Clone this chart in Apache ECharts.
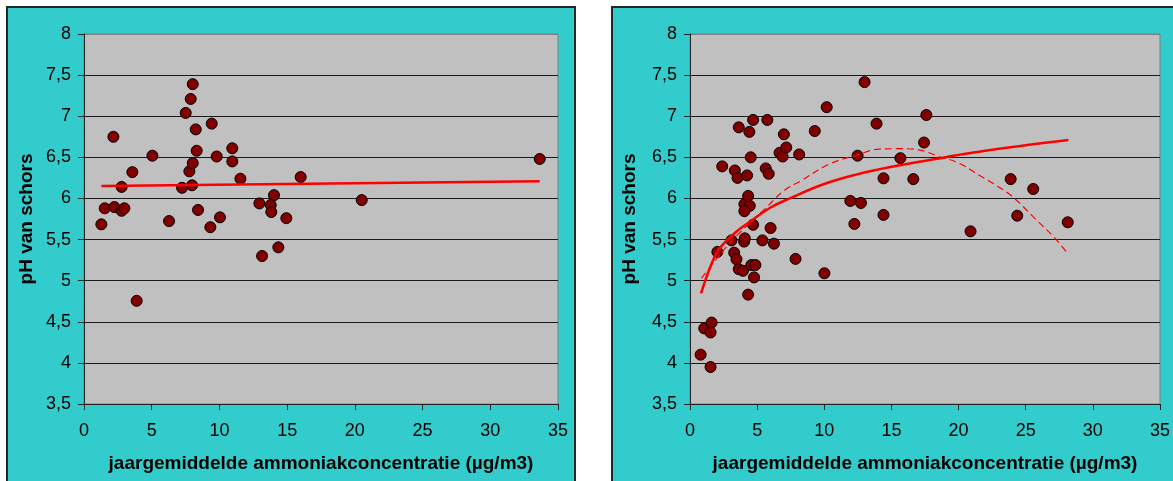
<!DOCTYPE html>
<html>
<head>
<meta charset="utf-8">
<title>pH van schors en ammoniakconcentratie</title>
<script src="https://cdn.jsdelivr.net/npm/echarts@6/dist/echarts.min.js"></script>
<style>
  html, body { margin: 0; padding: 0; background: #ffffff; }
  #chart { width: 1173px; height: 481px; }
</style>
</head>
<body>
<div id="chart"></div>
<script>
// Axis ranges and tick labels (shared by both panels)
const yTicks = [3.5, 4, 4.5, 5, 5.5, 6, 6.5, 7, 7.5, 8];
const xTicks = [0, 5, 10, 15, 20, 25, 30, 35];
const yTitle = 'pH van schors';
const xTitle = 'jaargemiddelde ammoniakconcentratie (µg/m3)';

// Left panel: measured sites
const leftX = [1.28, 1.53, 2.17, 2.24, 2.78, 2.98, 2.78, 3.57, 3.89, 5.05, 6.28, 7.24, 7.51, 7.88, 8.03, 7.78, 8.03, 7.98, 8.25, 8.32, 8.42, 9.33, 9.43, 9.80, 10.04, 10.95, 10.95, 11.55, 12.95, 13.15, 13.79, 13.83, 14.03, 14.35, 14.94, 16.0, 20.51, 33.65];
const leftY = [5.685, 5.88, 6.75, 5.895, 5.85, 5.88, 6.14, 6.32, 4.755, 6.52, 5.725, 6.13, 7.04, 7.21, 7.39, 6.33, 6.43, 6.16, 6.84, 6.58, 5.86, 5.65, 6.91, 6.51, 5.77, 6.61, 6.45, 6.24, 5.94, 5.30, 5.92, 5.835, 6.04, 5.405, 5.76, 6.26, 5.98, 6.48];
// Left panel: linear trend line
const leftTrendX = [1.28, 33.65];
const leftTrendY = [6.15, 6.21];

// Right panel: measured sites
const rightX = [0.79, 1.06, 1.61, 1.53, 1.53, 2.04, 2.40, 3.09, 3.29, 3.46, 3.63, 3.95, 3.34, 3.54, 3.63, 4.03, 4.08, 4.05, 4.45, 4.05, 4.33, 4.25, 4.42, 4.52, 4.70, 4.57, 4.87, 4.77, 4.33, 4.70, 5.39, 5.64, 5.86, 5.76, 6.00, 6.25, 6.67, 6.90, 7.17, 6.99, 7.86, 8.13, 9.29, 10.01, 10.18, 11.94, 12.24, 12.48, 12.73, 13.00, 13.89, 14.41, 14.41, 15.67, 16.63, 17.43, 17.60, 20.89, 23.88, 24.37, 25.56, 28.13];
const rightY = [4.10, 4.42, 4.49, 4.37, 3.95, 5.35, 6.39, 5.49, 5.34, 5.26, 5.14, 5.12, 6.34, 6.25, 6.865, 5.475, 5.515, 5.93, 5.91, 5.845, 6.03, 6.28, 6.81, 6.50, 6.955, 5.19, 5.19, 5.04, 4.83, 5.68, 5.49, 6.365, 6.30, 6.955, 5.64, 5.45, 6.555, 6.51, 6.62, 6.78, 5.265, 6.535, 6.82, 5.09, 7.11, 5.97, 5.69, 6.52, 5.945, 7.415, 6.91, 6.245, 5.80, 6.49, 6.235, 6.68, 7.015, 5.60, 6.235, 5.79, 6.115, 5.71];
// Right panel: logarithmic trend (solid)
const logTrendX = [0.82, 1.5, 2.1, 3.34, 4.57, 6.0, 7.42, 9.89, 12.36, 14.83, 18.29, 20.76, 24.47, 28.18];
const logTrendY = [4.846, 5.16, 5.37, 5.58, 5.73, 5.89, 6.0, 6.17, 6.29, 6.38, 6.48, 6.55, 6.635, 6.71];
// Right panel: second-order polynomial trend (dashed)
const polyTrendX = [0.86, 2.0, 3.5, 5.56, 7.04, 8.28, 10.26, 12.48, 14.09, 15.7, 17.05, 18.54, 20.02, 21.5, 22.99, 24.1, 25.6, 27.19, 28.05];
const polyTrendY = [5.03, 5.27, 5.55, 5.87, 6.10, 6.215, 6.41, 6.53, 6.60, 6.605, 6.59, 6.51, 6.43, 6.285, 6.14, 6.01, 5.77, 5.515, 5.345];

const pairs = (xs, ys) => xs.map((x, i) => [x, ys[i]]);

const FONT = '"Liberation Sans", Arial, sans-serif';
const BLACK = '#000000';

function makeXAxis(gridIndex) {
  return {
    type: 'value', gridIndex,
    min: xTicks[0], max: xTicks[xTicks.length - 1], interval: 5,
    name: xTitle, nameLocation: 'middle', nameGap: 50,
    nameTextStyle: { fontFamily: FONT, fontSize: 19, fontWeight: 'bold', color: BLACK },
    axisLine: { show: true, lineStyle: { color: '#222222', width: 1 } },
    axisTick: { show: true, inside: false, length: 6, lineStyle: { color: '#222222' } },
    axisLabel: { fontFamily: FONT, fontSize: 18, color: BLACK, margin: 18 },
    splitLine: { show: false }
  };
}

function makeYAxis(gridIndex, gap) {
  return {
    type: 'value', gridIndex,
    min: yTicks[0], max: yTicks[yTicks.length - 1], interval: 0.5,
    name: yTitle, nameLocation: 'middle', nameRotate: 90, nameGap: gap,
    nameTextStyle: { fontFamily: FONT, fontSize: 19, fontWeight: 'bold', color: BLACK },
    axisLine: { show: true, lineStyle: { color: '#222222', width: 1 } },
    axisTick: { show: true, inside: false, length: 6, lineStyle: { color: '#222222' } },
    axisLabel: {
      fontFamily: FONT, fontSize: 18, color: BLACK, margin: 13,
      formatter: v => String(v).replace('.', ',')
    },
    splitLine: {
      show: true,
      lineStyle: { color: yTicks.map((t, i) => i === yTicks.length - 1 ? '#808080' : '#1a1a1a'), width: 1 }
    }
  };
}

const dotStyle = { color: '#800000', borderColor: '#000000', borderWidth: 1, opacity: 1 };

const chart = echarts.init(document.getElementById('chart'), null, { renderer: 'canvas' });

chart.setOption({
  animation: false,
  backgroundColor: '#ffffff',
  graphic: {
    elements: [
      { type: 'rect', z: -10, shape: { x: 7, y: 7, width: 568, height: 490 },
        style: { fill: '#33CCCC', stroke: '#262626', lineWidth: 2 } },
      { type: 'rect', z: -10, shape: { x: 612, y: 7, width: 575, height: 490 },
        style: { fill: '#33CCCC', stroke: '#262626', lineWidth: 2 } }
    ]
  },
  grid: [
    { left: 84, top: 34, width: 474, height: 370, show: true,
      backgroundColor: '#C0C0C0', borderColor: '#808080', borderWidth: 1 },
    { left: 690, top: 34, width: 472, height: 370, show: true,
      backgroundColor: '#C0C0C0', borderColor: '#808080', borderWidth: 1 }
  ],
  xAxis: [makeXAxis(0), makeXAxis(1)],
  yAxis: [makeYAxis(0, 48), makeYAxis(1, 51)],
  series: [
    { type: 'scatter', xAxisIndex: 0, yAxisIndex: 0, symbol: 'circle', symbolSize: 11,
      itemStyle: dotStyle, data: pairs(leftX, leftY), z: 2 },
    { type: 'line', xAxisIndex: 0, yAxisIndex: 0, showSymbol: false, symbol: 'none',
      lineStyle: { color: '#FF0000', width: 2.5 }, data: pairs(leftTrendX, leftTrendY), z: 3 },
    { type: 'scatter', xAxisIndex: 1, yAxisIndex: 1, symbol: 'circle', symbolSize: 11,
      itemStyle: dotStyle, data: pairs(rightX, rightY), z: 2 },
    { type: 'line', xAxisIndex: 1, yAxisIndex: 1, showSymbol: false, symbol: 'none', smooth: 0.4,
      lineStyle: { color: '#FF0000', width: 2.5 }, data: pairs(logTrendX, logTrendY), z: 3 },
    { type: 'line', xAxisIndex: 1, yAxisIndex: 1, showSymbol: false, symbol: 'none', smooth: 0.4,
      lineStyle: { color: '#FF0000', width: 1.2, type: [7, 4] }, data: pairs(polyTrendX, polyTrendY), z: 3 }
  ]
});
</script>
</body>
</html>
